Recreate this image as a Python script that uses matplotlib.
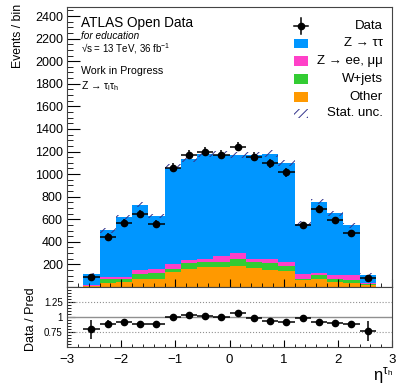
import matplotlib
matplotlib.use("Agg")
import matplotlib.pyplot as plt
from matplotlib.patches import Rectangle
from matplotlib.ticker import MultipleLocator, FixedLocator, FuncFormatter
import numpy as np

plt.rcParams["font.family"] = ["Liberation Sans", "DejaVu Sans"]
plt.rcParams["mathtext.fontset"] = "custom"
plt.rcParams["mathtext.rm"] = "Liberation Sans"
plt.rcParams["mathtext.it"] = "Liberation Sans:italic"
plt.rcParams["mathtext.default"] = "regular"
plt.rcParams["hatch.linewidth"] = 0.7

# tau_h pseudorapidity, 18 bins of 0.3
eta_edges = [-2.7, -2.4, -2.1, -1.8, -1.5, -1.2, -0.9, -0.6, -0.3, 0.0,
             0.3, 0.6, 0.9, 1.2, 1.5, 1.8, 2.1, 2.4, 2.7]

other = [6, 33, 44, 74, 68, 133, 157, 181, 176, 184, 166, 148, 142, 59, 68, 44, 39, 15]
wjets = [4, 35, 30, 44, 56, 30, 56, 38, 49, 62, 59, 65, 45, 15, 41, 30, 26, 9]
zll = [12, 18, 18, 30, 33, 38, 24, 27, 48, 53, 27, 39, 38, 39, 18, 33, 39, 9]
ztautau = [94, 416, 527, 582, 472, 857, 897, 934, 900, 871, 915, 928, 875, 448, 628, 548, 441, 76]
stat_unc = [12, 20, 22, 24, 22, 28, 30, 30, 30, 30, 30, 30, 28, 20, 24, 22, 20, 12]

data = [92, 444, 566, 648, 557, 1055, 1173, 1200, 1173, 1244, 1155, 1096, 1016, 548, 695, 590, 478, 83]
data_err = [19, 30, 33, 35, 33, 40, 42, 42, 42, 43, 41, 40, 38, 31, 35, 33, 30, 18]

c_ztt = "#0096ff"
c_zll = "#ff40c8"
c_wj = "#33cc33"
c_oth = "#ff9900"
c_hatch = "#34348c"

edges = np.array(eta_edges)
centers = 0.5 * (edges[1:] + edges[:-1])
widths = np.diff(edges)

W, H = 398, 387
fig = plt.figure(figsize=(W / 100, H / 100), dpi=100)
ax = fig.add_axes([67 / W, 1 - 287 / H, 325 / W, 280 / H])
rax = fig.add_axes([67 / W, 1 - 347 / H, 325 / W, 60 / H])

# stacked backgrounds
bottom = np.zeros(len(centers))
for vals, col in [(other, c_oth), (wjets, c_wj), (zll, c_zll), (ztautau, c_ztt)]:
    ax.bar(centers, vals, width=widths, bottom=bottom, color=col, linewidth=0)
    bottom += np.array(vals)
total = bottom

unc = np.array(stat_unc)
ax.bar(centers, 2 * unc, width=widths, bottom=total - unc, fill=False,
       hatch="///", edgecolor=c_hatch, linewidth=0)

ax.errorbar(centers, data, xerr=widths / 2, yerr=data_err, fmt="o", color="k",
            ms=4.5, elinewidth=1.1, capsize=0)

ax.set_xlim(-3, 3)
ax.set_ylim(0, 2480)
ax.xaxis.set_major_locator(MultipleLocator(1))
ax.xaxis.set_minor_locator(MultipleLocator(0.2))
ax.yaxis.set_major_locator(MultipleLocator(200))
ax.yaxis.set_minor_locator(MultipleLocator(50))
ax.yaxis.set_major_formatter(FuncFormatter(lambda v, p: "" if v == 0 else f"{v:.0f}"))
ax.tick_params(which="both", direction="in", top=False, right=False,
               labelbottom=False, labelsize=9, pad=3)
ax.tick_params(axis="y", which="major", length=9)
ax.tick_params(axis="y", which="minor", length=4.5)
ax.tick_params(axis="x", which="major", length=6)
ax.tick_params(axis="x", which="minor", length=3)

# labels inside the main pad
ax.text(0.043, 0.943, "ATLAS Open Data", transform=ax.transAxes, fontsize=9.8, va="center")
ax.text(0.043, 0.897, "for education", transform=ax.transAxes, fontsize=7.2,
        style="italic", va="center")
ax.text(0.043, 0.853, "√s = 13 TeV, 36 fb$^{-1}$", transform=ax.transAxes,
        fontsize=7, va="center")
ax.text(0.043, 0.771, "Work in Progress", transform=ax.transAxes, fontsize=7.7, va="center")
ax.text(0.043, 0.716, r"Z → $\tau_{l}\tau_{h}$", transform=ax.transAxes, fontsize=7.5,
        va="center")

# legend
lx0, lx1, tx = 0.698, 0.742, 0.972
entries = ["Data", "Z → ττ", "Z → ee, μμ", "W+jets", "Other", "Stat. unc."]
ys = [0.932, 0.871, 0.807, 0.743, 0.679, 0.621]
for lab, y in zip(entries, ys):
    ax.text(tx, y, lab, transform=ax.transAxes, fontsize=9.5, ha="right", va="center")
xm = 0.5 * (lx0 + lx1)
ax.plot([lx0, lx1], [ys[0], ys[0]], color="k", lw=1.1, transform=ax.transAxes)
ax.plot([xm, xm], [ys[0] - 0.028, ys[0] + 0.028], color="k", lw=1.1, transform=ax.transAxes)
ax.plot([xm], [ys[0]], "o", color="k", ms=4.5, transform=ax.transAxes)
bh = 0.033
for col, y in zip([c_ztt, c_zll, c_wj, c_oth], ys[1:5]):
    ax.add_patch(Rectangle((lx0, y - bh / 2), lx1 - lx0, bh, transform=ax.transAxes,
                           facecolor=col, linewidth=0))
ax.add_patch(Rectangle((lx0, ys[5] - bh / 2), lx1 - lx0, bh, transform=ax.transAxes,
                       fill=False, hatch="////", edgecolor=c_hatch, linewidth=0))

# ratio pad
ratio = np.array(data) / total
ratio_err = np.array(data_err) / total
rax.axhline(1, color="#909090", lw=1.0)
for yl in (0.75, 1.25):
    rax.axhline(yl, color="#909090", lw=0.8, ls=":")
rax.errorbar(centers, ratio, xerr=widths / 2, yerr=ratio_err, fmt="o", color="k",
             ms=4.5, elinewidth=1.1, capsize=0)
rax.set_xlim(-3, 3)
rax.set_ylim(0.5, 1.5)
rax.xaxis.set_major_locator(MultipleLocator(1))
rax.xaxis.set_minor_locator(MultipleLocator(0.2))
rax.yaxis.set_major_locator(FixedLocator([0.75, 1.0, 1.25]))
rax.yaxis.set_minor_locator(MultipleLocator(0.05))
rax.yaxis.set_major_formatter(FuncFormatter(lambda v, p: f"{v:g}"))
rax.tick_params(which="both", direction="in", top=False, right=False)
rax.tick_params(axis="x", which="major", length=5, labelsize=9.5, pad=5)
rax.tick_params(axis="x", which="minor", length=2.5)
rax.tick_params(axis="y", which="major", length=6, labelsize=7, pad=3)
rax.tick_params(axis="y", which="minor", length=3)

for a in (ax, rax):
    for s in a.spines.values():
        s.set_linewidth(0.8)
        s.set_color("#444444")

fig.text(18 / W, 1 - 4 / H, "Events / bin", rotation=90, ha="center", va="top", fontsize=8.8)
fig.text(31 / W, 1 - 319 / H, "Data / Pred", rotation=90, ha="center", va="center", fontsize=9)
fig.text(393 / W, 1 - 386 / H, r"$\eta^{\tau_h}$", ha="right", va="bottom", fontsize=12)

fig.savefig("out.png", dpi=100)
